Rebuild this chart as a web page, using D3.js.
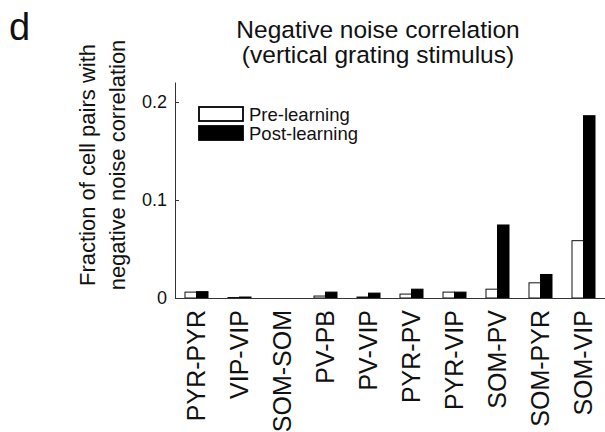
<!DOCTYPE html>
<html>
<head>
<meta charset="utf-8">
<script src="https://cdn.jsdelivr.net/npm/d3@7"></script>
<style>
body { margin: 0; background: #fff; }
svg text { font-family: Arial, "Liberation Sans", sans-serif; fill: #111; }
</style>
</head>
<body>
<svg width="605" height="432"></svg>
<script>
var categories = ["PYR-PYR", "VIP-VIP", "SOM-SOM", "PV-PB", "PV-VIP", "PYR-PV", "PYR-VIP", "SOM-PV", "SOM-PYR", "SOM-VIP"]
var preLearning = [0.006, 0.0005, 0, 0.002, 0.001, 0.004, 0.006, 0.009, 0.0155, 0.0585]
var postLearning = [0.0065, 0.001, 0, 0.006, 0.005, 0.009, 0.006, 0.0745, 0.024, 0.186]
var yTicks = [0, 0.1, 0.2]
var seriesNames = ["Pre-learning", "Post-learning"]

var svg = d3.select("svg")
var margin = { left: 175, right: 0, top: 82, bottom: 134 }
var width = 605 - margin.left - margin.right,
    height = 432 - margin.top - margin.bottom

var g = svg.append("g").attr("transform", "translate(" + margin.left + "," + margin.top + ")")

var x = d3.scaleBand().domain(categories).range([0, width]).paddingInner(0.465).paddingOuter(0.2325)
var y = d3.scaleLinear().domain([0, 0.2204]).range([height, 0])
var barW = x.bandwidth() / 2

// bars
categories.forEach(function (c, i) {
    g.append("rect")
        .attr("x", x(c))
        .attr("y", y(preLearning[i]))
        .attr("width", barW)
        .attr("height", height - y(preLearning[i]))
        .attr("fill", "#fff")
        .attr("stroke", "#111")
        .attr("stroke-width", 1)
    g.append("rect")
        .attr("x", x(c) + barW)
        .attr("y", y(postLearning[i]))
        .attr("width", barW)
        .attr("height", height - y(postLearning[i]))
        .attr("fill", "#000")
        .attr("stroke", "#000")
        .attr("stroke-width", 1)
})

// axes
var yAxis = g.append("g")
    .call(d3.axisLeft(y).tickValues(yTicks).tickSizeInner(-4).tickSizeOuter(0).tickPadding(8)
        .tickFormat(function (d) { return d === 0 ? "0" : d3.format(".1f")(d) }))
yAxis.select(".domain").attr("stroke", "#333")
yAxis.selectAll("line").attr("stroke", "#333")
yAxis.selectAll("text").style("font-size", "18px").attr("fill", "#222")

var xAxis = g.append("g")
    .attr("transform", "translate(0," + height + ")")
    .call(d3.axisBottom(x).tickSize(0).tickPadding(0))
xAxis.select(".domain").attr("stroke", "#333")
xAxis.selectAll("text")
    .style("font-size", "25px")
    .attr("fill", "#111")
    .attr("text-anchor", "end")
    .attr("transform", "rotate(-90)")
    .attr("x", -12)
    .attr("y", 0)
    .attr("dy", "0.35em")

// legend
var legend = g.append("g").attr("transform", "translate(24,25)")
seriesNames.forEach(function (s, i) {
    legend.append("rect")
        .attr("x", 0)
        .attr("y", i * 19)
        .attr("width", 44)
        .attr("height", 14)
        .attr("fill", i === 0 ? "#fff" : "#000")
        .attr("stroke", "#000")
        .attr("stroke-width", 1.8)
    legend.append("text")
        .attr("x", 50)
        .attr("y", i * 19 + 14)
        .style("font-size", "18.5px")
        .text(s)
})

// titles
svg.append("text").attr("x", 378).attr("y", 38).attr("text-anchor", "middle")
    .style("font-size", "24.5px").text("Negative noise correlation")
svg.append("text").attr("x", 378).attr("y", 63).attr("text-anchor", "middle")
    .style("font-size", "24.5px").text("(vertical grating stimulus)")
svg.append("text").attr("x", 9).attr("y", 40)
    .style("font-size", "38px").text("d")

var yl = svg.append("text").attr("transform", "translate(95,165) rotate(-90)")
    .attr("text-anchor", "middle").style("font-size", "22px")
yl.append("tspan").attr("x", 0).attr("y", 0).text("Fraction of cell pairs with")
yl.append("tspan").attr("x", 0).attr("y", 30).text("negative noise correlation")
</script>
</body>
</html>
